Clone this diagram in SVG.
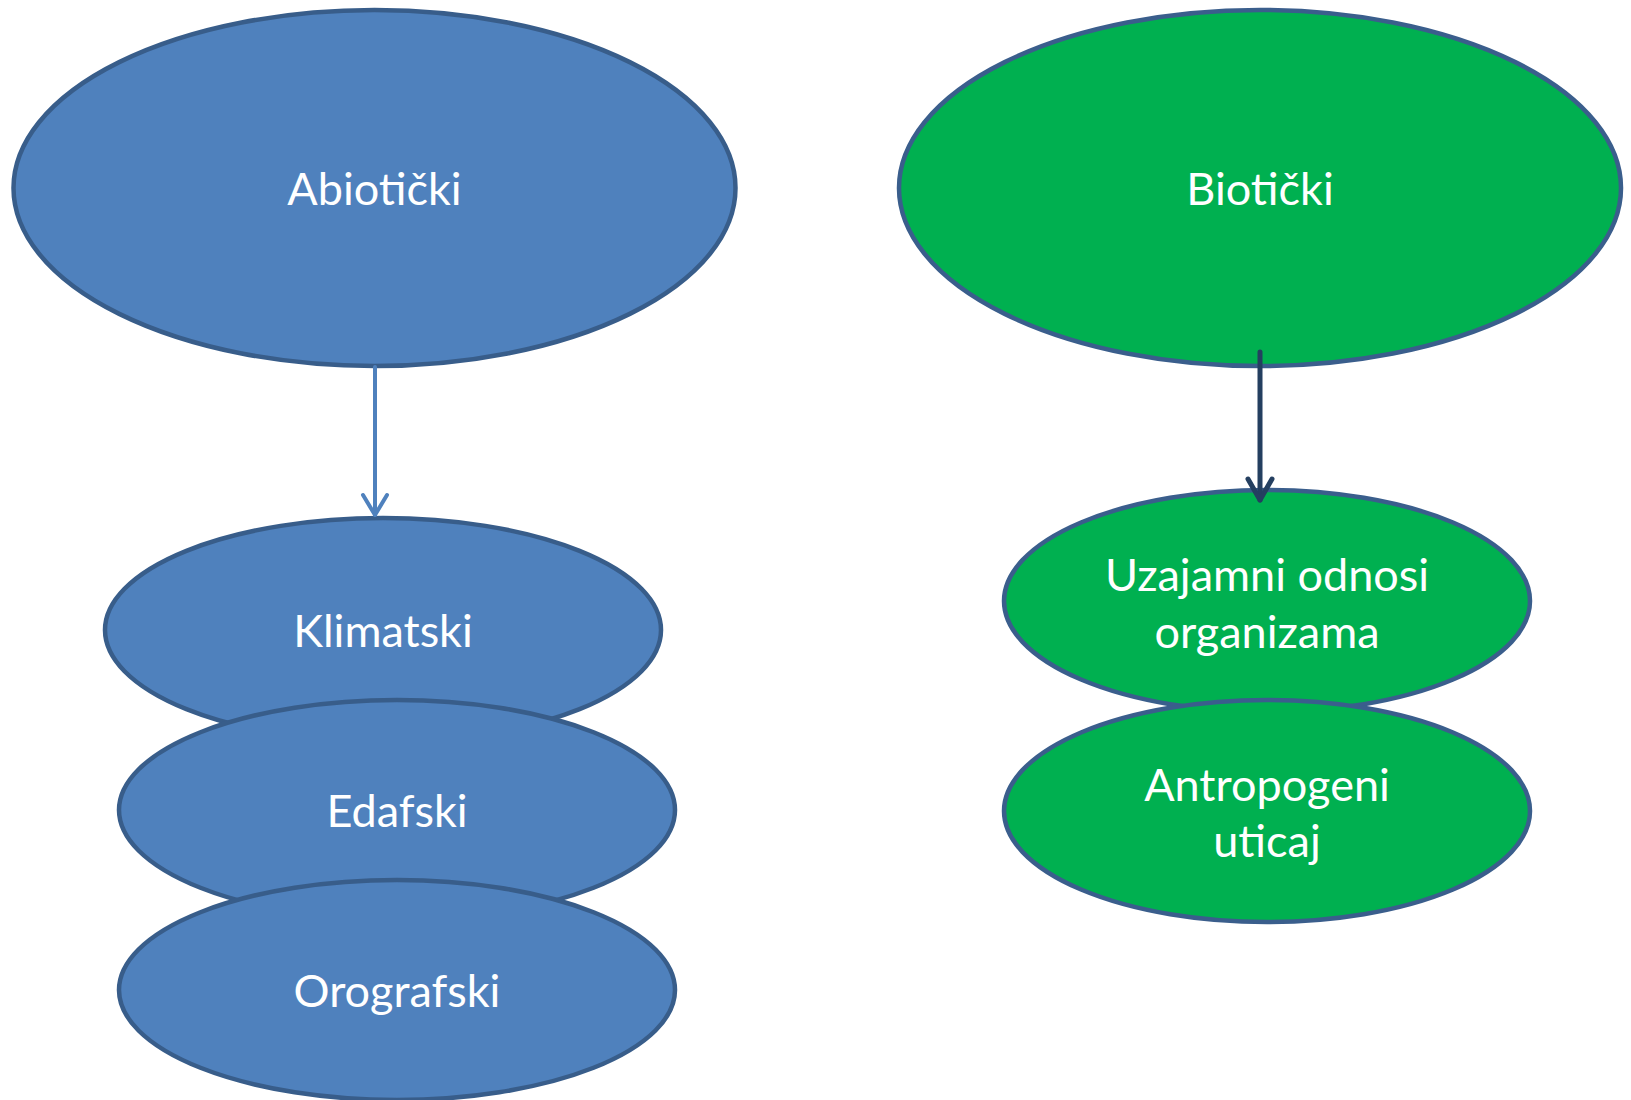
<svg xmlns="http://www.w3.org/2000/svg" width="1631" height="1100" viewBox="0 0 1631 1100">
<style>
.blue{fill:#4F81BD;stroke:#385D8A;stroke-width:4.5}
.green{fill:#00B050;stroke:#3A5E8C;stroke-width:4.5}
text{font-family:Lato,"Open Sans","Liberation Sans",sans-serif;font-size:45px;fill:#FFFFFF;text-anchor:middle;dominant-baseline:central}
.c1{stroke:#4F81BD;stroke-width:4;fill:none;stroke-linecap:round;stroke-linejoin:round}
.c2{stroke:#243F60;stroke-width:5;fill:none;stroke-linecap:round;stroke-linejoin:round}
</style>
<rect width="1631" height="1100" fill="#FFFFFF"/>
<g id="abioticki"><ellipse class="blue" cx="374.5" cy="188" rx="361" ry="178"/><text x="374.5" y="188">Abiotički</text></g>
<g id="bioticki"><ellipse class="green" cx="1260" cy="188" rx="361" ry="178"/><text x="1260" y="188">Biotički</text></g>
<g id="klimatski"><ellipse class="blue" cx="383" cy="630" rx="278" ry="112"/><text x="383" y="630">Klimatski</text></g>
<g id="edafski"><ellipse class="blue" cx="397" cy="810" rx="278" ry="110"/><text x="397" y="810">Edafski</text></g>
<g id="orografski"><ellipse class="blue" cx="397" cy="990" rx="278" ry="110"/><text x="397" y="990">Orografski</text></g>
<g id="uzajamni"><ellipse class="green" cx="1267" cy="601" rx="263" ry="111"/><text x="1267" y="574">Uzajamni odnosi</text><text x="1267" y="631">organizama</text></g>
<g id="antropogeni"><ellipse class="green" cx="1267" cy="811" rx="263" ry="111"/><text x="1267" y="784">Antropogeni</text><text x="1267" y="840">uticaj</text></g>
<g id="connectors">
<line class="c1" x1="375" y1="367" x2="375" y2="515"/>
<polyline class="c1" points="363,495 375,515 387,495"/>
<line class="c2" x1="1260" y1="352" x2="1260" y2="500"/>
<polyline class="c2" points="1248,479 1260,500 1272,479"/>
</g>
</svg>
